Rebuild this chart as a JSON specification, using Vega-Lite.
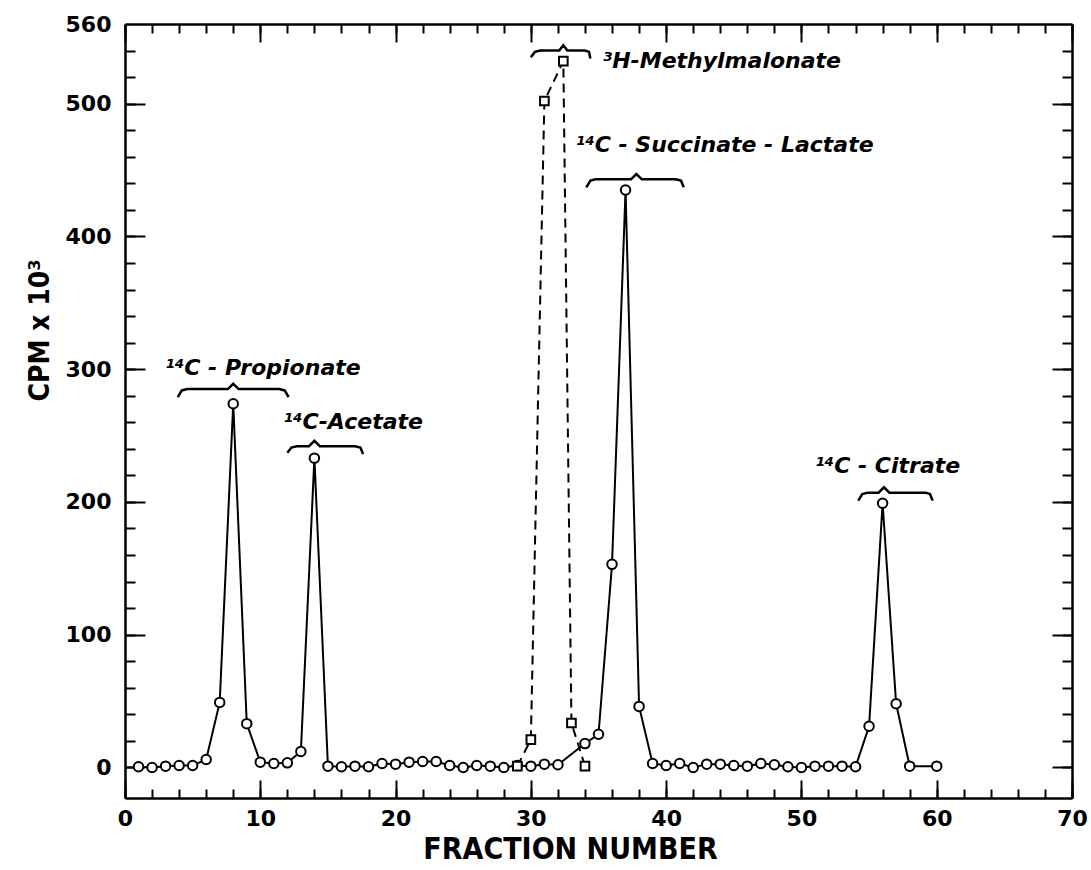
{
  "$schema": "https://vega.github.io/schema/vega-lite/v6.json",
  "width": 947,
  "height": 774,
  "autosize": "none",
  "padding": {"left": 125, "top": 24, "right": 19, "bottom": 72},
  "background": "white",
  "config": {
    "view": {"stroke": null},
    "axis": {"grid": false, "domainColor": "black", "tickColor": "black", "labelColor": "black", "titleColor": "black", "domainWidth": 2.5, "tickWidth": 2, "labelFont": "DejaVu Sans", "titleFont": "DejaVu Sans Condensed"}
  },
  "datasets": {
    "circles": [
      {"f": 1, "cpm": 0.5}, {"f": 2, "cpm": 0}, {"f": 3, "cpm": 1}, {"f": 4, "cpm": 1.5}, {"f": 5, "cpm": 1.5},
      {"f": 6, "cpm": 6}, {"f": 7, "cpm": 49}, {"f": 8, "cpm": 274}, {"f": 9, "cpm": 33}, {"f": 10, "cpm": 4},
      {"f": 11, "cpm": 3}, {"f": 12, "cpm": 3.5}, {"f": 13, "cpm": 12}, {"f": 14, "cpm": 233}, {"f": 15, "cpm": 1},
      {"f": 16, "cpm": 0.5}, {"f": 17, "cpm": 1}, {"f": 18, "cpm": 0.5}, {"f": 19, "cpm": 3}, {"f": 20, "cpm": 2.5},
      {"f": 21, "cpm": 4}, {"f": 22, "cpm": 4.5}, {"f": 23, "cpm": 4.5}, {"f": 24, "cpm": 1.5}, {"f": 25, "cpm": 0},
      {"f": 26, "cpm": 1.5}, {"f": 27, "cpm": 1}, {"f": 28, "cpm": 0}, {"f": 29, "cpm": 1.5}, {"f": 30, "cpm": 1},
      {"f": 31, "cpm": 2.5}, {"f": 32, "cpm": 2}, {"f": 34, "cpm": 18}, {"f": 35, "cpm": 25}, {"f": 36, "cpm": 153},
      {"f": 37, "cpm": 435}, {"f": 38, "cpm": 46}, {"f": 39, "cpm": 3}, {"f": 40, "cpm": 1.5}, {"f": 41, "cpm": 3},
      {"f": 42, "cpm": 0}, {"f": 43, "cpm": 2.5}, {"f": 44, "cpm": 2.5}, {"f": 45, "cpm": 1.5}, {"f": 46, "cpm": 1},
      {"f": 47, "cpm": 3}, {"f": 48, "cpm": 2}, {"f": 49, "cpm": 0.5}, {"f": 50, "cpm": 0}, {"f": 51, "cpm": 1},
      {"f": 52, "cpm": 1}, {"f": 53, "cpm": 1}, {"f": 54, "cpm": 0.5}, {"f": 55, "cpm": 31}, {"f": 56, "cpm": 199},
      {"f": 57, "cpm": 48}, {"f": 58, "cpm": 1}, {"f": 60, "cpm": 1}
    ],
    "squares": [
      {"f": 29, "cpm": 1}, {"f": 30, "cpm": 21}, {"f": 31, "cpm": 502}, {"f": 32.4, "cpm": 532}, {"f": 33, "cpm": 33.5}, {"f": 34, "cpm": 1}
    ],
    "brackets": [
      {"b": "prop", "i": 1, "f": 3.9, "cpm": 279}, {"b": "prop", "i": 2, "f": 4.2, "cpm": 284}, {"b": "prop", "i": 3, "f": 4.6, "cpm": 285},
      {"b": "prop", "i": 4, "f": 7.6, "cpm": 285}, {"b": "prop", "i": 5, "f": 8.0, "cpm": 289}, {"b": "prop", "i": 6, "f": 8.4, "cpm": 285},
      {"b": "prop", "i": 7, "f": 11.4, "cpm": 285}, {"b": "prop", "i": 8, "f": 11.8, "cpm": 284}, {"b": "prop", "i": 9, "f": 12.1, "cpm": 279},
      {"b": "acet", "i": 1, "f": 12.0, "cpm": 237}, {"b": "acet", "i": 2, "f": 12.3, "cpm": 241}, {"b": "acet", "i": 3, "f": 12.7, "cpm": 242},
      {"b": "acet", "i": 4, "f": 13.6, "cpm": 242}, {"b": "acet", "i": 5, "f": 14.0, "cpm": 246}, {"b": "acet", "i": 6, "f": 14.4, "cpm": 242},
      {"b": "acet", "i": 7, "f": 17.0, "cpm": 242}, {"b": "acet", "i": 8, "f": 17.4, "cpm": 241}, {"b": "acet", "i": 9, "f": 17.6, "cpm": 236},
      {"b": "meth", "i": 1, "f": 30.0, "cpm": 535}, {"b": "meth", "i": 2, "f": 30.3, "cpm": 539}, {"b": "meth", "i": 3, "f": 30.7, "cpm": 540},
      {"b": "meth", "i": 4, "f": 32.1, "cpm": 540}, {"b": "meth", "i": 5, "f": 32.4, "cpm": 544}, {"b": "meth", "i": 6, "f": 32.7, "cpm": 540},
      {"b": "meth", "i": 7, "f": 34.0, "cpm": 540}, {"b": "meth", "i": 8, "f": 34.3, "cpm": 539}, {"b": "meth", "i": 9, "f": 34.4, "cpm": 534},
      {"b": "succ", "i": 1, "f": 34.1, "cpm": 437}, {"b": "succ", "i": 2, "f": 34.4, "cpm": 442}, {"b": "succ", "i": 3, "f": 34.8, "cpm": 443},
      {"b": "succ", "i": 4, "f": 37.4, "cpm": 443}, {"b": "succ", "i": 5, "f": 37.8, "cpm": 447}, {"b": "succ", "i": 6, "f": 38.2, "cpm": 443},
      {"b": "succ", "i": 7, "f": 40.7, "cpm": 443}, {"b": "succ", "i": 8, "f": 41.1, "cpm": 442}, {"b": "succ", "i": 9, "f": 41.3, "cpm": 437},
      {"b": "citr", "i": 1, "f": 54.2, "cpm": 201}, {"b": "citr", "i": 2, "f": 54.5, "cpm": 206}, {"b": "citr", "i": 3, "f": 54.9, "cpm": 207},
      {"b": "citr", "i": 4, "f": 55.7, "cpm": 207}, {"b": "citr", "i": 5, "f": 56.1, "cpm": 211}, {"b": "citr", "i": 6, "f": 56.5, "cpm": 207},
      {"b": "citr", "i": 7, "f": 59.2, "cpm": 207}, {"b": "citr", "i": 8, "f": 59.5, "cpm": 206}, {"b": "citr", "i": 9, "f": 59.7, "cpm": 201}
    ],
    "labels": [
      {"f": 2.96, "cpm": 301, "text": "¹⁴C - Propionate"},
      {"f": 11.7, "cpm": 260, "text": "¹⁴C-Acetate"},
      {"f": 35.3, "cpm": 532, "text": "³H-Methylmalonate"},
      {"f": 33.3, "cpm": 469, "text": "¹⁴C - Succinate - Lactate"},
      {"f": 51.0, "cpm": 227, "text": "¹⁴C - Citrate"}
    ]
  },
  "resolve": {"axis": {"x": "independent", "y": "independent"}},
  "layer": [
    {
      "data": {"name": "circles"},
      "mark": {"type": "line", "color": "black", "strokeWidth": 2},
      "encoding": {
        "x": {"field": "f", "type": "quantitative", "scale": {"domain": [0, 70], "nice": false, "zero": false},
          "axis": {"orient": "bottom", "values": [0, 10, 20, 30, 40, 50, 60, 70], "ticks": false, "labelFontSize": 22, "labelFontWeight": "bold", "labelPadding": 10, "labelFlush": false, "labelOverlap": false, "title": "FRACTION NUMBER", "titleFontSize": 30, "titleFontWeight": "bold", "titleX": 445, "titleY": 51, "titleBaseline": "middle"}},
        "y": {"field": "cpm", "type": "quantitative", "scale": {"domain": [-23, 560], "nice": false, "zero": false},
          "axis": {"orient": "left", "values": [0, 100, 200, 300, 400, 500, 560], "ticks": false, "labelFontSize": 22, "labelFontWeight": "bold", "labelPadding": 14, "labelFlush": false, "labelOverlap": false, "title": "CPM x 10³", "titleFontSize": 28, "titleFontWeight": "bold", "titleX": -85, "titleY": 306, "titleAlign": "center", "titleBaseline": "middle"}}
      }
    },
    {
      "data": {"name": "circles"},
      "mark": {"type": "point", "shape": "circle", "filled": true, "fill": "white", "stroke": "black", "strokeWidth": 2, "size": 90, "opacity": 1},
      "encoding": {
        "x": {"field": "f", "type": "quantitative", "scale": {"domain": [0, 70], "nice": false, "zero": false},
          "axis": {"orient": "bottom", "values": [0,2,4,6,8,10,12,14,16,18,20,22,24,26,28,30,32,34,36,38,40,42,44,46,48,50,52,54,56,58,60,62,64,66,68,70], "labels": false, "domain": false, "tickSize": -9, "title": null}},
        "y": {"field": "cpm", "type": "quantitative", "scale": {"domain": [-23, 560], "nice": false, "zero": false},
          "axis": {"orient": "left", "values": [0,20,40,60,80,100,120,140,160,180,200,220,240,260,280,300,320,340,360,380,400,420,440,460,480,500,520,540], "labels": false, "domain": false, "tickSize": -10, "title": null}}
      }
    },
    {
      "data": {"name": "squares"},
      "mark": {"type": "line", "color": "black", "strokeWidth": 2, "strokeDash": [9, 6]},
      "encoding": {
        "x": {"field": "f", "type": "quantitative", "scale": {"domain": [0, 70], "nice": false, "zero": false},
          "axis": {"orient": "bottom", "values": [0, 10, 20, 30, 40, 50, 60, 70], "labels": false, "domain": false, "tickSize": -18, "title": null}},
        "y": {"field": "cpm", "type": "quantitative", "scale": {"domain": [-23, 560], "nice": false, "zero": false},
          "axis": {"orient": "left", "values": [0, 100, 200, 300, 400, 500], "labels": false, "domain": false, "tickSize": -20, "title": null}}
      }
    },
    {
      "data": {"name": "squares"},
      "mark": {"type": "point", "shape": "square", "filled": true, "fill": "white", "stroke": "black", "strokeWidth": 2, "size": 75, "opacity": 1},
      "encoding": {
        "x": {"field": "f", "type": "quantitative", "scale": {"domain": [0, 70], "nice": false, "zero": false},
          "axis": {"orient": "top", "values": [0,2,4,6,8,10,12,14,16,18,20,22,24,26,28,30,32,34,36,38,40,42,44,46,48,50,52,54,56,58,60,62,64,66,68,70], "labels": false, "domain": true, "tickSize": -9, "title": null}},
        "y": {"field": "cpm", "type": "quantitative", "scale": {"domain": [-23, 560], "nice": false, "zero": false},
          "axis": {"orient": "right", "values": [0,20,40,60,80,100,120,140,160,180,200,220,240,260,280,300,320,340,360,380,400,420,440,460,480,500,520,540], "labels": false, "domain": true, "tickSize": -10, "title": null}}
      }
    },
    {
      "data": {"name": "brackets"},
      "mark": {"type": "line", "color": "black", "strokeWidth": 2.5},
      "encoding": {
        "x": {"field": "f", "type": "quantitative", "scale": {"domain": [0, 70], "nice": false, "zero": false},
          "axis": {"orient": "top", "values": [0, 10, 20, 30, 40, 50, 60, 70], "labels": false, "domain": false, "tickSize": -18, "title": null}},
        "y": {"field": "cpm", "type": "quantitative", "scale": {"domain": [-23, 560], "nice": false, "zero": false},
          "axis": {"orient": "right", "values": [0, 100, 200, 300, 400, 500], "labels": false, "domain": false, "tickSize": -20, "title": null}},
        "detail": {"field": "b", "type": "nominal"},
        "order": {"field": "i", "type": "quantitative"}
      }
    },
    {
      "data": {"name": "labels"},
      "mark": {"type": "text", "align": "left", "baseline": "middle", "font": "DejaVu Sans", "fontStyle": "italic", "fontWeight": "bold", "fontSize": 22, "color": "black"},
      "encoding": {
        "x": {"field": "f", "type": "quantitative", "scale": {"domain": [0, 70], "nice": false, "zero": false}, "axis": null},
        "y": {"field": "cpm", "type": "quantitative", "scale": {"domain": [-23, 560], "nice": false, "zero": false}, "axis": null},
        "text": {"field": "text", "type": "nominal"}
      }
    }
  ]
}
